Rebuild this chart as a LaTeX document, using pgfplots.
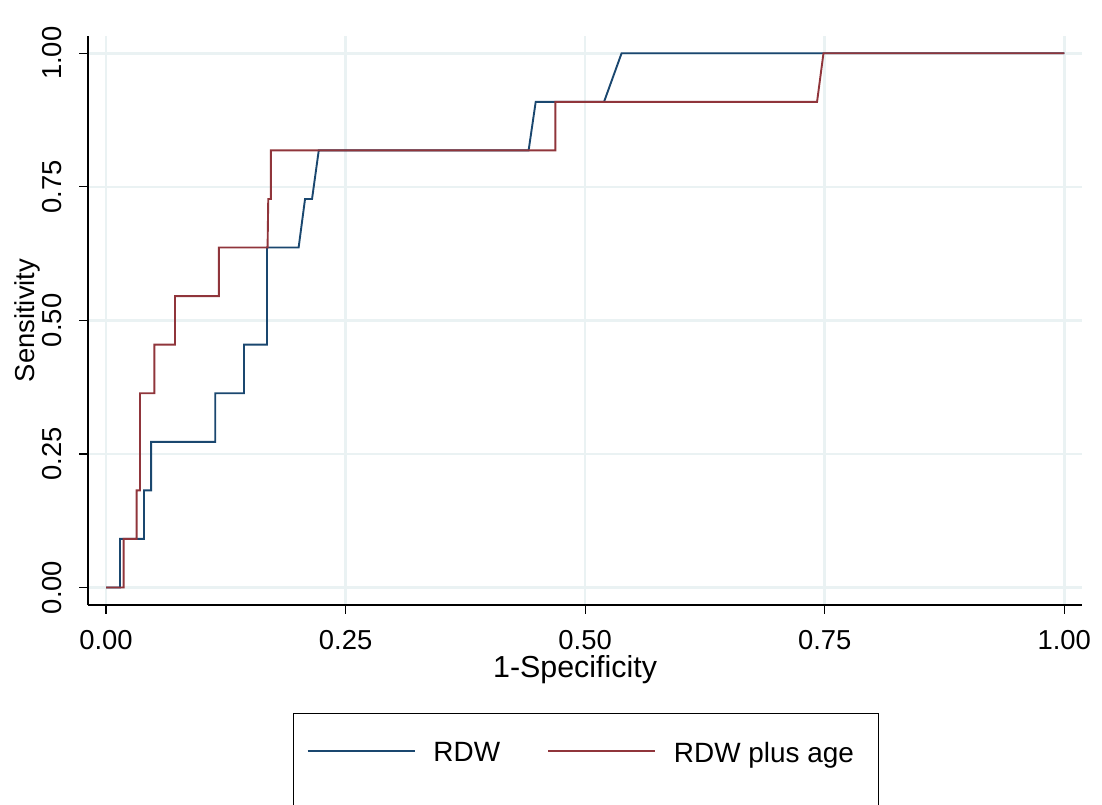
\documentclass[border=0pt]{standalone}
\usepackage{pgfplots}
\pgfplotsset{compat=1.18}
\usepackage{fontspec}
\setmainfont{Liberation Sans}
\definecolor{stblue}{HTML}{1A476F}
\definecolor{stred}{HTML}{90353B}
\definecolor{gridc}{HTML}{EAF2F3}
\begin{document}
\begin{tikzpicture}[x=1bp,y=1bp]
\begin{axis}[
  at={(88bp,200bp)}, anchor=south west,
  scale only axis, width=994bp, height=569bp,
  xmin=-0.0188, xmax=1.0185, ymin=-0.0328, ymax=1.0324,
  axis x line*=bottom, axis y line*=left,
  axis line style={black, line width=1.3bp, -},
  xtick={0,0.25,0.5,0.75,1}, ytick={0,0.25,0.5,0.75,1},
  /pgf/number format/.cd, fixed, fixed zerofill, precision=2, assume math mode=true,
  /pgfplots/.cd,
  tick align=outside, major tick length=9bp,
  tick style={black, line width=1.3bp},
  grid=major, grid style={gridc, line width=2.6bp},
  xticklabel style={anchor=base, font=\fontsize{27.5}{32}\selectfont},
  xticklabel shift=36bp,
  yticklabel style={rotate=90, anchor=base, font=\fontsize{27.5}{32}\selectfont},
  yticklabel shift=18bp,
  xlabel={1-Specificity}, ylabel={Sensitivity},
  every axis x label/.style={at={(axis description cs:0.49,-0.1283)}, anchor=base, font=\fontsize{30.5}{36}\selectfont},
  every axis y label/.style={at={(axis description cs:-0.0614,0.5)}, rotate=90, anchor=center, font=\fontsize{27.5}{32}\selectfont},
  legend columns=2,
  legend image code/.code={\draw[#1] (0bp,16bp) -- (107bp,16bp);},
  legend style={at={(axis description cs:0.2062,-0.1898)}, anchor=north west,
    draw=black, line width=1.2bp, inner xsep=13bp, inner ysep=28.6bp,
    font=\fontsize{28}{34}\selectfont,
    nodes={inner sep=0pt, text depth=30bp},
    /tikz/every odd column/.append style={column sep=18bp},
    /tikz/every even column/.append style={column sep=47bp}},
]
\addplot[draw=stblue, line width=1.9bp] coordinates {
(0,0) (0.0146,0) (0.0146,0.0909) (0.0396,0.0909) (0.0396,0.1818)
(0.047,0.1818) (0.047,0.2727) (0.114,0.2727) (0.114,0.3636)
(0.144,0.3636) (0.144,0.4545) (0.168,0.4545) (0.168,0.6364)
(0.201,0.6364) (0.2077,0.7273) (0.215,0.7273) (0.222,0.8182)
(0.441,0.8182) (0.4484,0.9091) (0.5197,0.9091) (0.538,1) (1,1)
};
\addlegendentry{RDW}
\addplot[draw=stred, line width=1.9bp] coordinates {
(0,0) (0.0184,0) (0.0184,0.0909) (0.032,0.0909) (0.032,0.1818)
(0.0355,0.1818) (0.0355,0.3636) (0.0504,0.3636) (0.0504,0.4545)
(0.072,0.4545) (0.072,0.5455) (0.1178,0.5455) (0.1178,0.6364)
(0.1686,0.6364) (0.1693,0.7273) (0.172,0.7273) (0.172,0.8182)
(0.469,0.8182) (0.469,0.9091) (0.742,0.9091) (0.7487,1) (1,1)
};
\addlegendentry{RDW plus age\hspace*{12bp}}
\end{axis}
\pgfresetboundingbox
\useasboundingbox (0,0) rectangle (1102,805);
\end{tikzpicture}
\end{document}
